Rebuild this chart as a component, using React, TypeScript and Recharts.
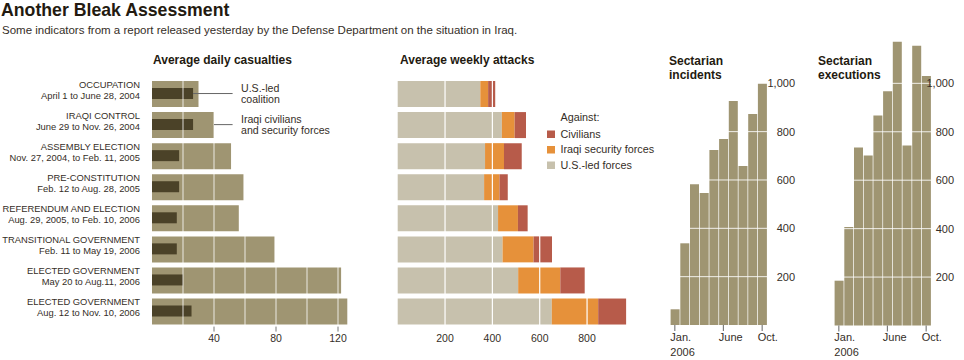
import React from 'react';
import { BarChart, Bar, XAxis, YAxis, ReferenceLine } from 'recharts';

// phases of the war, top to bottom
const periodNames = [
  'OCCUPATION',
  'IRAQI CONTROL',
  'ASSEMBLY ELECTION',
  'PRE-CONSTITUTION',
  'REFERENDUM AND ELECTION',
  'TRANSITIONAL GOVERNMENT',
  'ELECTED GOVERNMENT',
  'ELECTED GOVERNMENT',
];
const periodDates = [
  'April 1 to June 28, 2004',
  'June 29 to Nov. 26, 2004',
  'Nov. 27, 2004, to Feb. 11, 2005',
  'Feb. 12 to Aug. 28, 2005',
  'Aug. 29, 2005, to Feb. 10, 2006',
  'Feb. 11 to May 19, 2006',
  'May 20 to Aug.11, 2006',
  'Aug. 12 to Nov. 10, 2006',
];

// average daily casualties
const iraqiCasualties = [30, 40, 51, 59, 56, 79, 122, 126];
const coalitionCasualties = [26.5, 26.5, 17.5, 17.5, 16, 16, 20, 25.5];

// average weekly attacks, by target
const attacksOnUS = [349, 440, 369, 365, 424, 443, 509, 651];
const attacksOnISF = [33, 54, 80, 65, 84, 131, 178, 196];
const attacksOnCivilians = [30, 48, 75, 35, 41, 78, 103, 118];

// 2006, by month
const months = ['Jan.', 'Feb.', 'Mar.', 'Apr.', 'May', 'June', 'July', 'Aug.', 'Sept.', 'Oct.'];
const sectarianIncidents = [65, 338, 582, 546, 724, 770, 927, 658, 873, 1000];
const sectarianExecutions = [185, 407, 735, 702, 867, 967, 1172, 743, 1155, 1030];

const casualtyTicks = [40, 80, 120];
const casualtyGrid = [20, 40, 60, 80, 100, 120];
const attackTicks = [200, 400, 600, 800];
const sectarianTicks = [200, 400, 600, 800, 1000];
const monthLabels: Record<string, string[]> = { 'Jan.': ['Jan.', '2006'], June: ['June'], 'Oct.': ['Oct.'] };

const FONT = '"Liberation Sans", Arial, Helvetica, sans-serif';
const W = 964;
const H = 360;
const INK = '#231a10';
const TEXT = '#352e27';
const KHAKI = '#9f9572';
const DARK = '#4b4228';
const BEIGE = '#c7c1ad';
const ORANGE = '#e6913a';
const RED = '#b75b4a';

const periods = periodDates.map((d, i) => ({
  period: d,
  iraqi: iraqiCasualties[i],
  coalition: coalitionCasualties[i],
  us: attacksOnUS[i],
  isf: attacksOnISF[i],
  civ: attacksOnCivilians[i],
}));
const incidents = months.map((m, i) => ({ month: m, value: sectarianIncidents[i] }));
const executions = months.map((m, i) => ({ month: m, value: sectarianExecutions[i] }));

const PeriodTick = (props: any) => {
  const { x, y, payload } = props;
  const i = periodDates.indexOf(payload.value);
  return (
    <text x={x} y={y} textAnchor="end" fontSize={9.4} fill={TEXT} fontFamily={FONT}>
      <tspan x={x} dy={-5.6}>{periodNames[i]}</tspan>
      <tspan x={x} dy={11}>{payload.value}</tspan>
    </text>
  );
};

const MonthTick = (props: any) => {
  const { x, y, payload } = props;
  const lines = monthLabels[payload.value];
  if (!lines) return <g />;
  return (
    <g>
      <line x1={x} x2={x} y1={y} y2={y + 6} stroke="#666" />
      <text x={x - 4.5} y={y} fontSize={11} fill={TEXT} fontFamily={FONT}>
        {lines.map((l, k) => (
          <tspan key={k} x={x - 4.5} dy={k === 0 ? 15.6 : 15}>{l}</tspan>
        ))}
      </text>
    </g>
  );
};

const ValueTick = (props: any) => {
  const { x, y, payload, shift } = props;
  return (
    <text x={x + shift} y={y} dy={3.9} textAnchor="end" fontSize={11} fill={TEXT} fontFamily={FONT}>
      {payload.value.toLocaleString('en-US')}
    </text>
  );
};

const tickStyle = { fontSize: 10.5, fill: TEXT, fontFamily: FONT };

const Casualties = () => (
  <BarChart width={W} height={H} layout="vertical" data={periods}
    margin={{ top: 78, right: 610.5, bottom: 13.4, left: 0 }}>
    <XAxis type="number" domain={[0, 130]} ticks={casualtyTicks} axisLine={false}
      tickLine={{ stroke: '#777' }} tickSize={5} tickMargin={3} height={20} tick={tickStyle} />
    <YAxis yAxisId="main" type="category" dataKey="period" width={152} interval={0}
      axisLine={false} tickLine={false} tickSize={0} tickMargin={12} tick={<PeriodTick />} />
    <YAxis yAxisId="inner" type="category" dataKey="period" width={0} hide />
    <Bar yAxisId="main" dataKey="iraqi" fill={KHAKI} barSize={26} isAnimationActive={false} />
    <Bar yAxisId="inner" dataKey="coalition" fill={DARK} barSize={11} isAnimationActive={false} />
    {casualtyGrid.map(v => (
      <ReferenceLine key={v} yAxisId="main" x={v} stroke="#fff" strokeOpacity={0.8} />
    ))}
    {/* leader lines for the annotations */}
    <ReferenceLine yAxisId="main" stroke="#666"
      segment={[{ x: coalitionCasualties[0], y: periodDates[0] }, { x: 52, y: periodDates[0] }]} />
    <ReferenceLine yAxisId="main" stroke="#666"
      segment={[{ x: iraqiCasualties[1], y: periodDates[1] }, { x: 52, y: periodDates[1] }]} />
  </BarChart>
);

const Attacks = () => (
  <BarChart width={W} height={H} layout="vertical" data={periods}
    margin={{ top: 78, right: 329.6, bottom: 13.4, left: 397.7 }}>
    <XAxis type="number" domain={[0, 1000]} ticks={attackTicks} axisLine={false}
      tickLine={false} tickSize={5} tickMargin={3} height={20} tick={tickStyle} />
    <YAxis type="category" dataKey="period" width={0} hide />
    <Bar dataKey="us" stackId="a" fill={BEIGE} barSize={26} isAnimationActive={false} />
    <Bar dataKey="isf" stackId="a" fill={ORANGE} barSize={26} isAnimationActive={false} />
    <Bar dataKey="civ" stackId="a" fill={RED} barSize={26} isAnimationActive={false} />
    {attackTicks.map(v => (
      <ReferenceLine key={v} x={v} stroke="#fff" strokeWidth={1.2} />
    ))}
  </BarChart>
);

const Sectarian = ({ data, margin, max, shift }: any) => (
  <BarChart width={W} height={H} data={data} margin={margin} barCategoryGap={0.6}>
    <XAxis dataKey="month" interval={0} axisLine={false} tickLine={false} tickSize={0}
      tickMargin={0} height={30} tick={<MonthTick />} />
    <YAxis orientation="right" domain={[0, max]} ticks={sectarianTicks} width={30}
      axisLine={false} tickLine={false} tickSize={0} tickMargin={0} tick={<ValueTick shift={shift} />} />
    <Bar dataKey="value" fill={KHAKI} isAnimationActive={false} />
    {sectarianTicks.map(v => (
      <ReferenceLine key={v} y={v} stroke="#fff" strokeOpacity={0.85} />
    ))}
  </BarChart>
);

const layer: React.CSSProperties = { position: 'absolute', left: 0, top: 0 };

export default function App() {
  return (
    <div style={{ position: 'absolute', left: 0, top: 0, width: W, height: H, background: '#fff', overflow: 'hidden' }}>
      <div style={layer}><Casualties /></div>
      <div style={layer}><Attacks /></div>
      <div style={layer}>
        <Sectarian data={incidents} max={1000} shift={28}
          margin={{ top: 83.3, right: 167, bottom: 5, left: 670 }} />
      </div>
      <div style={layer}>
        <Sectarian data={executions} max={1200} shift={23}
          margin={{ top: 34.9, right: 3, bottom: 4.5, left: 834 }} />
      </div>
      <svg width={W} height={H} style={{ ...layer, pointerEvents: 'none' }} fontFamily={FONT}>
        <text x={1} y={15.5} fontSize={17.7} fontWeight={700} fill={INK}>Another Bleak Assessment</text>
        <text x={2} y={33.5} fontSize={11.5} fill={TEXT}>
          Some indicators from a report released yesterday by the Defense Department on the situation in Iraq.
        </text>
        <text x={153} y={64} fontSize={12} fontWeight={700} fill={INK}>Average daily casualties</text>
        <text x={400} y={64} fontSize={12} fontWeight={700} fill={INK}>Average weekly attacks</text>
        <text x={669} y={64.6} fontSize={12} fontWeight={700} fill={INK}>
          <tspan x={669}>Sectarian</tspan>
          <tspan x={669} dy={14}>incidents</tspan>
        </text>
        <text x={818} y={64.6} fontSize={12} fontWeight={700} fill={INK}>
          <tspan x={818}>Sectarian</tspan>
          <tspan x={818} dy={14}>executions</tspan>
        </text>

        <g fontSize={10.6} fill={TEXT}>
          <text x={241} y={92}>U.S.-led</text>
          <text x={241} y={103.3}>coalition</text>
          <text x={241} y={122.8}>Iraqi civilians</text>
          <text x={241} y={133.5}>and security forces</text>
        </g>

        <g fontSize={10.8} fill={TEXT}>
          <text x={560.5} y={120.5}>Against:</text>
          <rect x={547} y={130.5} width={8} height={7.5} fill={RED} />
          <text x={560.5} y={137.5}>Civilians</text>
          <rect x={547} y={146} width={8} height={7.5} fill={ORANGE} />
          <text x={560.5} y={153}>Iraqi security forces</text>
          <rect x={547} y={161.5} width={8} height={7.5} fill={BEIGE} />
          <text x={560.5} y={168.5}>U.S.-led forces</text>
        </g>
      </svg>
    </div>
  );
}
